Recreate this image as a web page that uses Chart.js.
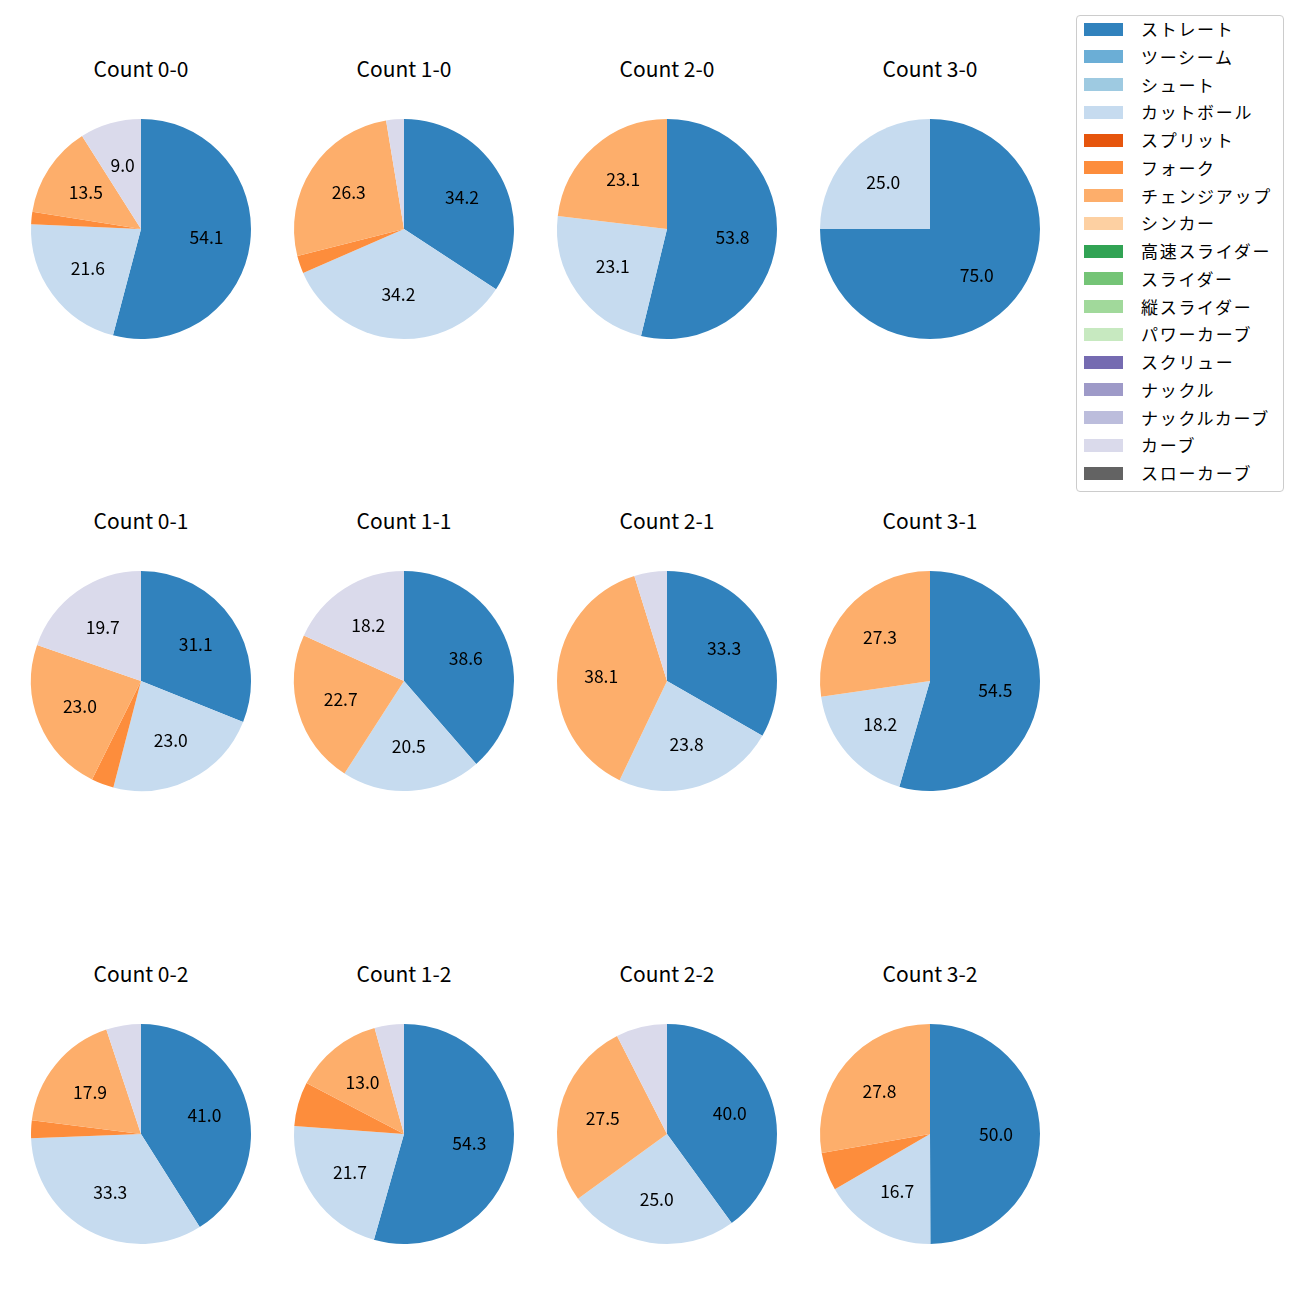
<!DOCTYPE html>
<html><head><meta charset="utf-8">
<script src="https://cdn.jsdelivr.net/npm/chart.js@4.4.0/dist/chart.umd.min.js"></script>
<style>
body{margin:0;background:#fff;width:1300px;height:1300px;position:relative;overflow:hidden;font-family:"Noto Sans CJK JP","Noto Sans",sans-serif;}
.pie{position:absolute;width:240px;height:240px;}
.title{position:absolute;width:240px;text-align:center;font-size:21px;color:#000;line-height:24px;}
#legend{position:absolute;left:1076px;top:15px;width:208px;height:477px;border:1px solid #ccc;border-radius:4px;box-sizing:border-box;}
.li{position:absolute;left:7px;height:20px;font-size:17px;color:#000;}
.sw{position:absolute;left:0;top:1.5px;width:39px;height:13px;}
.lt{position:absolute;left:57px;top:-5px;white-space:nowrap;letter-spacing:1.7px;}
</style></head><body>
<div id="legend"></div>
<script>
const pitchTypes = ["ストレート","ツーシーム","シュート","カットボール","スプリット","フォーク","チェンジアップ","シンカー","高速スライダー","スライダー","縦スライダー","パワーカーブ","スクリュー","ナックル","ナックルカーブ","カーブ","スローカーブ"];
const pitchColors = ["#3182bd","#6baed6","#9ecae1","#c6dbef","#e6550d","#fd8d3c","#fdae6b","#fdd0a2","#31a354","#74c476","#a1d99b","#c7e9c0","#756bb1","#9e9ac8","#bcbddc","#dadaeb","#636363"];
const countLabels = ["Count 0-0","Count 1-0","Count 2-0","Count 3-0","Count 0-1","Count 1-1","Count 2-1","Count 3-1","Count 0-2","Count 1-2","Count 2-2","Count 3-2"];
// order: ストレート,ツーシーム,シュート,カットボール,スプリット,フォーク,チェンジアップ,シンカー,高速スライダー,スライダー,縦スライダー,パワーカーブ,スクリュー,ナックル,ナックルカーブ,カーブ,スローカーブ
const c00 = [54.1,0,0,21.6,0,1.8,13.5,0,0,0,0,0,0,0,0,9.0,0];
const c10 = [34.2,0,0,34.2,0,2.6,26.3,0,0,0,0,0,0,0,0,2.6,0];
const c20 = [53.8,0,0,23.1,0,0,23.1,0,0,0,0,0,0,0,0,0,0];
const c30 = [75.0,0,0,25.0,0,0,0,0,0,0,0,0,0,0,0,0,0];
const c01 = [31.1,0,0,23.0,0,3.3,23.0,0,0,0,0,0,0,0,0,19.7,0];
const c11 = [38.6,0,0,20.5,0,0,22.7,0,0,0,0,0,0,0,0,18.2,0];
const c21 = [33.3,0,0,23.8,0,0,38.1,0,0,0,0,0,0,0,0,4.8,0];
const c31 = [54.5,0,0,18.2,0,0,27.3,0,0,0,0,0,0,0,0,0,0];
const c02 = [41.0,0,0,33.3,0,2.6,17.9,0,0,0,0,0,0,0,0,5.1,0];
const c12 = [54.3,0,0,21.7,0,6.5,13.0,0,0,0,0,0,0,0,0,4.3,0];
const c22 = [40.0,0,0,25.0,0,0,27.5,0,0,0,0,0,0,0,0,7.5,0];
const c32 = [50.0,0,0,16.7,0,5.6,27.8,0,0,0,0,0,0,0,0,0,0];
const countData = [c00,c10,c20,c30,c01,c11,c21,c31,c02,c12,c22,c32];

const colX = [141,404,667,930];
const rowY = [229,681,1134];
const R = 110;
const labelMin = 8;

const labelPlugin = {
  id:'pctLabels',
  afterDatasetsDraw(chart){
    const ctx = chart.ctx;
    const meta = chart.getDatasetMeta(0);
    const vals = chart.data.datasets[0].data;
    ctx.save();
    ctx.font = '17.5px "Noto Sans CJK JP", "Noto Sans", sans-serif';
    ctx.fillStyle = '#000';
    ctx.textAlign = 'center';
    ctx.textBaseline = 'middle';
    meta.data.forEach((arc,i)=>{
      if (vals[i] < labelMin) return;
      const p = arc.getProps(['x','y','startAngle','endAngle','outerRadius'],true);
      const a = (p.startAngle+p.endAngle)/2;
      const r = p.outerRadius*0.6;
      ctx.fillText(vals[i].toFixed(1), p.x+Math.cos(a)*r, p.y+Math.sin(a)*r);
    });
    ctx.restore();
  }
};

countData.forEach((vals,k)=>{
  const cx = colX[k%4], cy = rowY[Math.floor(k/4)];
  const t = document.createElement('div');
  t.className='title'; t.textContent = countLabels[k];
  t.style.left=(cx-120)+'px'; t.style.top=(cy-173)+'px';
  document.body.appendChild(t);
  const c = document.createElement('canvas');
  c.className='pie'; c.width=240; c.height=240;
  c.style.left=(cx-120)+'px'; c.style.top=(cy-120)+'px';
  document.body.appendChild(c);
  new Chart(c,{
    type:'pie',
    data:{labels:pitchTypes,datasets:[{data:vals,backgroundColor:pitchColors,borderWidth:0,hoverOffset:0}]},
    options:{responsive:false,animation:false,devicePixelRatio:1,
      layout:{padding:(240-2*R)/2},
      plugins:{legend:{display:false},tooltip:{enabled:false},title:{display:false}},
      events:[]},
    plugins:[labelPlugin]
  });
});

const lg = document.getElementById('legend');
pitchTypes.forEach((name,i)=>{
  const d = document.createElement('div');
  d.className='li'; d.style.top=(5+i*27.75)+'px';
  d.innerHTML = '<div class="sw" style="background:'+pitchColors[i]+'"></div><div class="lt">'+name+'</div>';
  lg.appendChild(d);
});
</script>
</body></html>
